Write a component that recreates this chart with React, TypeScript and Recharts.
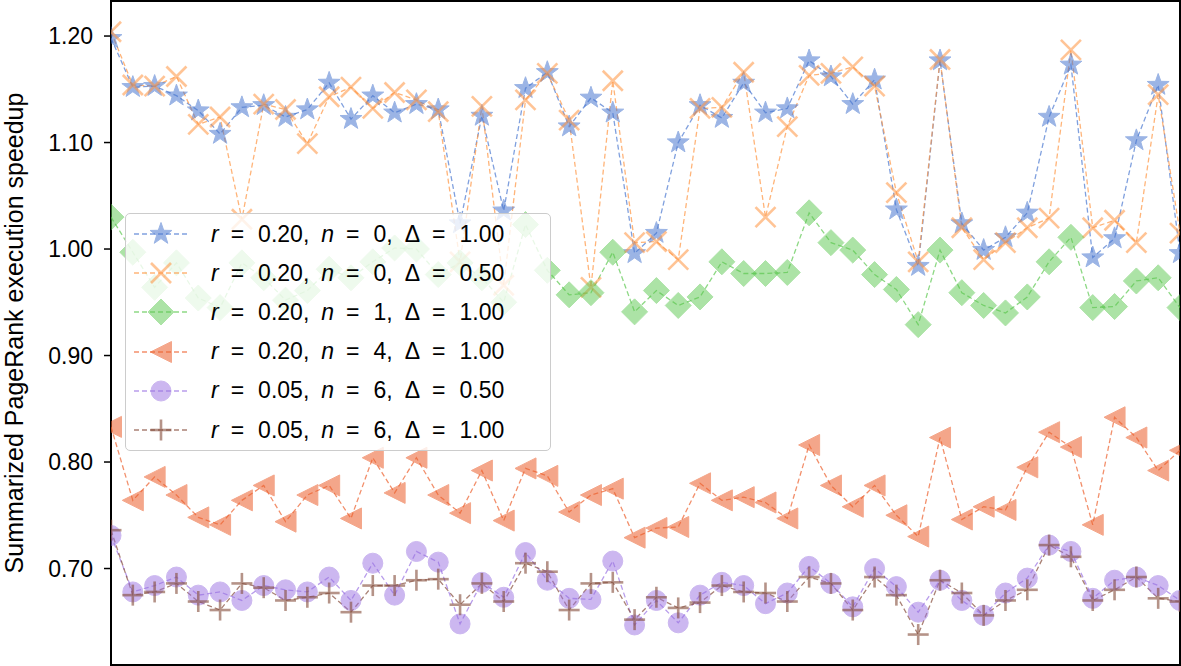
import React from 'react'
import { LineChart, Line, XAxis, YAxis, ReferenceArea } from 'recharts'

// benchmark run index along x (no tick labels in the figure)
const runs = Array.from({ length: 50 }, (_, i) => i)
const yTicks = [0.7, 0.8, 0.9, 1.0, 1.1, 1.2]
const Y_MIN = 0.6094
const Y_MAX = 1.2329

const r20n0d100 = [
  1.198, 1.152, 1.153, 1.144, 1.130, 1.108, 1.133, 1.135, 1.124, 1.131,
  1.156, 1.122, 1.144, 1.128, 1.136, 1.131, 1.024, 1.125, 1.036, 1.151,
  1.166, 1.115, 1.142, 1.128, 0.996, 1.015, 1.100, 1.135, 1.123, 1.156,
  1.128, 1.132, 1.177, 1.162, 1.136, 1.159, 1.037, 0.984, 1.177, 1.024,
  0.999, 1.011, 1.034, 1.124, 1.173, 0.992, 1.010, 1.102, 1.154, 0.996,
]
const r20n0d050 = [
  1.204, 1.154, 1.153, 1.162, 1.117, 1.124, 1.028, 1.136, 1.131, 1.099,
  1.143, 1.152, 1.132, 1.147, 1.140, 1.129, 0.988, 1.134, 0.966, 1.140,
  1.165, 1.121, 0.964, 1.158, 1.006, 1.007, 0.990, 1.132, 1.133, 1.166,
  1.030, 1.115, 1.163, 1.165, 1.171, 1.153, 1.053, 0.988, 1.178, 1.020,
  0.990, 1.006, 1.020, 1.029, 1.187, 1.020, 1.027, 1.006, 1.145, 1.015,
]
const r20n1d100 = [
  1.030, 0.997, 0.964, 0.987, 0.954, 0.945, 0.987, 0.973, 0.952, 0.961,
  0.981, 0.973, 0.988, 1.001, 1.000, 0.976, 0.987, 0.973, 0.950, 1.023,
  0.980, 0.957, 0.959, 0.997, 0.941, 0.961, 0.947, 0.955, 0.988, 0.977,
  0.977, 0.978, 1.034, 1.006, 0.999, 0.976, 0.962, 0.929, 0.999, 0.959,
  0.947, 0.940, 0.955, 0.988, 1.011, 0.945, 0.946, 0.970, 0.973, 0.945,
]
const r20n4d100 = [
  0.833, 0.764, 0.786, 0.769, 0.748, 0.741, 0.764, 0.778, 0.744, 0.769,
  0.778, 0.747, 0.804, 0.771, 0.804, 0.769, 0.752, 0.792, 0.745, 0.794,
  0.787, 0.753, 0.769, 0.775, 0.729, 0.738, 0.739, 0.780, 0.764, 0.767,
  0.762, 0.747, 0.816, 0.778, 0.758, 0.778, 0.750, 0.730, 0.823, 0.746,
  0.758, 0.755, 0.795, 0.828, 0.814, 0.741, 0.842, 0.823, 0.792, 0.811,
]
const r05n6d050 = [
  0.731, 0.678, 0.684, 0.692, 0.675, 0.678, 0.670, 0.684, 0.680, 0.678,
  0.692, 0.670, 0.705, 0.675, 0.716, 0.706, 0.648, 0.687, 0.673, 0.715,
  0.689, 0.672, 0.671, 0.707, 0.647, 0.670, 0.649, 0.675, 0.687, 0.684,
  0.667, 0.677, 0.702, 0.686, 0.664, 0.700, 0.683, 0.659, 0.689, 0.670,
  0.656, 0.677, 0.691, 0.722, 0.716, 0.672, 0.689, 0.692, 0.684, 0.670,
]
const r05n6d100 = [
  0.736, 0.675, 0.678, 0.686, 0.669, 0.661, 0.686, 0.682, 0.670, 0.673,
  0.677, 0.659, 0.684, 0.684, 0.689, 0.690, 0.666, 0.686, 0.669, 0.705,
  0.697, 0.661, 0.686, 0.687, 0.652, 0.673, 0.663, 0.668, 0.684, 0.678,
  0.677, 0.669, 0.692, 0.686, 0.661, 0.692, 0.675, 0.638, 0.689, 0.677,
  0.656, 0.670, 0.680, 0.722, 0.711, 0.670, 0.680, 0.692, 0.672, 0.669,
]

const data = runs.map((x, i) => ({
  x,
  s1: r20n0d100[i],
  s2: r20n0d050[i],
  s3: r20n1d100[i],
  s4: r20n4d100[i],
  s5: r05n6d050[i],
  s6: r05n6d100[i],
}))

type Mk = { cx: number; cy: number; color: string }

function StarMark({ cx, cy, color }: Mk) {
  const pts: string[] = []
  for (let k = 0; k < 10; k++) {
    const rad = k % 2 === 0 ? 11.5 : 4.6
    const a = -Math.PI / 2 + (k * Math.PI) / 5
    pts.push(`${cx + rad * Math.cos(a)},${cy + rad * Math.sin(a)}`)
  }
  return (
    <g opacity={0.55}>
      <polygon points={pts.join(' ')} fill={color} stroke={color} strokeWidth={1} />
    </g>
  )
}

function CrossMark({ cx, cy, color }: Mk) {
  const h = 10
  return (
    <g opacity={0.55} stroke={color} strokeWidth={2.6}>
      <line x1={cx - h} y1={cy - h} x2={cx + h} y2={cy + h} />
      <line x1={cx - h} y1={cy + h} x2={cx + h} y2={cy - h} />
    </g>
  )
}

function DiamondMark({ cx, cy, color }: Mk) {
  const h = 13
  return (
    <g opacity={0.5}>
      <polygon points={`${cx},${cy - h} ${cx + h},${cy} ${cx},${cy + h} ${cx - h},${cy}`} fill={color} stroke={color} strokeWidth={1} />
    </g>
  )
}

function TriLeftMark({ cx, cy, color }: Mk) {
  const h = 10.5
  return (
    <g opacity={0.55}>
      <polygon points={`${cx - h},${cy} ${cx + h},${cy - h} ${cx + h},${cy + h}`} fill={color} stroke={color} strokeWidth={1} />
    </g>
  )
}

function CircleMark({ cx, cy, color }: Mk) {
  return (
    <g opacity={0.5}>
      <circle cx={cx} cy={cy} r={10} fill={color} stroke={color} strokeWidth={1} />
    </g>
  )
}

function PlusMark({ cx, cy, color }: Mk) {
  const h = 10.5
  return (
    <g opacity={0.6} stroke={color} strokeWidth={2.6}>
      <line x1={cx - h} y1={cy} x2={cx + h} y2={cy} />
      <line x1={cx} y1={cy - h} x2={cx} y2={cy + h} />
    </g>
  )
}

const series = [
  { key: 's1', r: '0.20', n: '0', d: '1.00', color: '#4a78d0', Mark: StarMark },
  { key: 's2', r: '0.20', n: '0', d: '0.50', color: '#ff9440', Mark: CrossMark },
  { key: 's3', r: '0.20', n: '1', d: '1.00', color: '#5cc850', Mark: DiamondMark },
  { key: 's4', r: '0.20', n: '4', d: '1.00', color: '#ec5f2c', Mark: TriLeftMark },
  { key: 's5', r: '0.05', n: '6', d: '0.50', color: '#9a72e2', Mark: CircleMark },
  { key: 's6', r: '0.05', n: '6', d: '1.00', color: '#844c3a', Mark: PlusMark },
]

const FONT = '"Liberation Sans", Arial, sans-serif'

function Eq() {
  return <span style={{ display: 'inline-block', margin: '0 14px 0 12px' }}>=</span>
}

function LegendBox() {
  return (
    <div
      style={{
        position: 'absolute',
        left: 125,
        top: 213,
        width: 424,
        height: 236,
        border: '1.5px solid #cccccc',
        borderRadius: 5,
        background: 'rgba(255,255,255,0.8)',
        fontFamily: FONT,
        fontSize: 23,
        color: '#000',
      }}
    >
      {series.map((s, i) => (
        <div
          key={s.key}
          style={{ position: 'absolute', left: 0, top: 20 + i * 39.2 - 15, height: 30, display: 'flex', alignItems: 'center', whiteSpace: 'nowrap' }}
        >
          <svg width={70} height={30} style={{ marginLeft: 0 }}>
            <line x1={8} y1={15} x2={62} y2={15} stroke={s.color} strokeOpacity={0.7} strokeWidth={1.3} strokeDasharray="5 3" />
            <s.Mark cx={35} cy={15} color={s.color} />
          </svg>
          <span style={{ marginLeft: 15 }}>
            <i>r</i>
            <Eq />
            {s.r},<span style={{ display: 'inline-block', width: 12 }} />
            <i>n</i>
            <Eq />
            {s.n},<span style={{ display: 'inline-block', width: 12 }} />
            Δ
            <Eq />
            {s.d}
          </span>
        </div>
      ))}
    </div>
  )
}

export default function App() {
  return (
    <div style={{ position: 'absolute', left: 0, top: 0, width: 1181, height: 666, background: '#fff' }}>
      <LineChart width={1181} height={666} data={data} margin={{ top: 1, right: 1, bottom: 1, left: 0 }}>
        <XAxis dataKey="x" type="number" domain={[0, 49]} hide allowDataOverflow />
        <YAxis
          type="number"
          domain={[Y_MIN, Y_MAX]}
          ticks={yTicks}
          allowDataOverflow
          width={111}
          axisLine={false}
          tickSize={7}
          tickMargin={11}
          tickLine={{ stroke: '#000', strokeWidth: 1.5 }}
          tick={{ fill: '#000', fontSize: 23, fontFamily: FONT }}
          tickFormatter={(v: number) => v.toFixed(2)}
          label={{
            value: 'Summarized PageRank execution speedup',
            angle: -90,
            position: 'insideLeft',
            offset: 14,
            style: { textAnchor: 'middle', fontSize: 25, fontFamily: FONT, fill: '#000' },
          }}
        />
        {series.map((s) => (
          <Line
            key={s.key}
            dataKey={s.key}
            type="linear"
            stroke={s.color}
            strokeOpacity={0.7}
            strokeWidth={1.3}
            strokeDasharray="5 3"
            isAnimationActive={false}
            activeDot={false}
            dot={(p: any) => <s.Mark key={`${s.key}-${p.index}`} cx={p.cx} cy={p.cy} color={s.color} />}
          />
        ))}
        <ReferenceArea x1={0} x2={49} y1={Y_MIN} y2={Y_MAX} fill="none" stroke="#000" strokeWidth={2} ifOverflow="visible" />
      </LineChart>
      <LegendBox />
    </div>
  )
}
